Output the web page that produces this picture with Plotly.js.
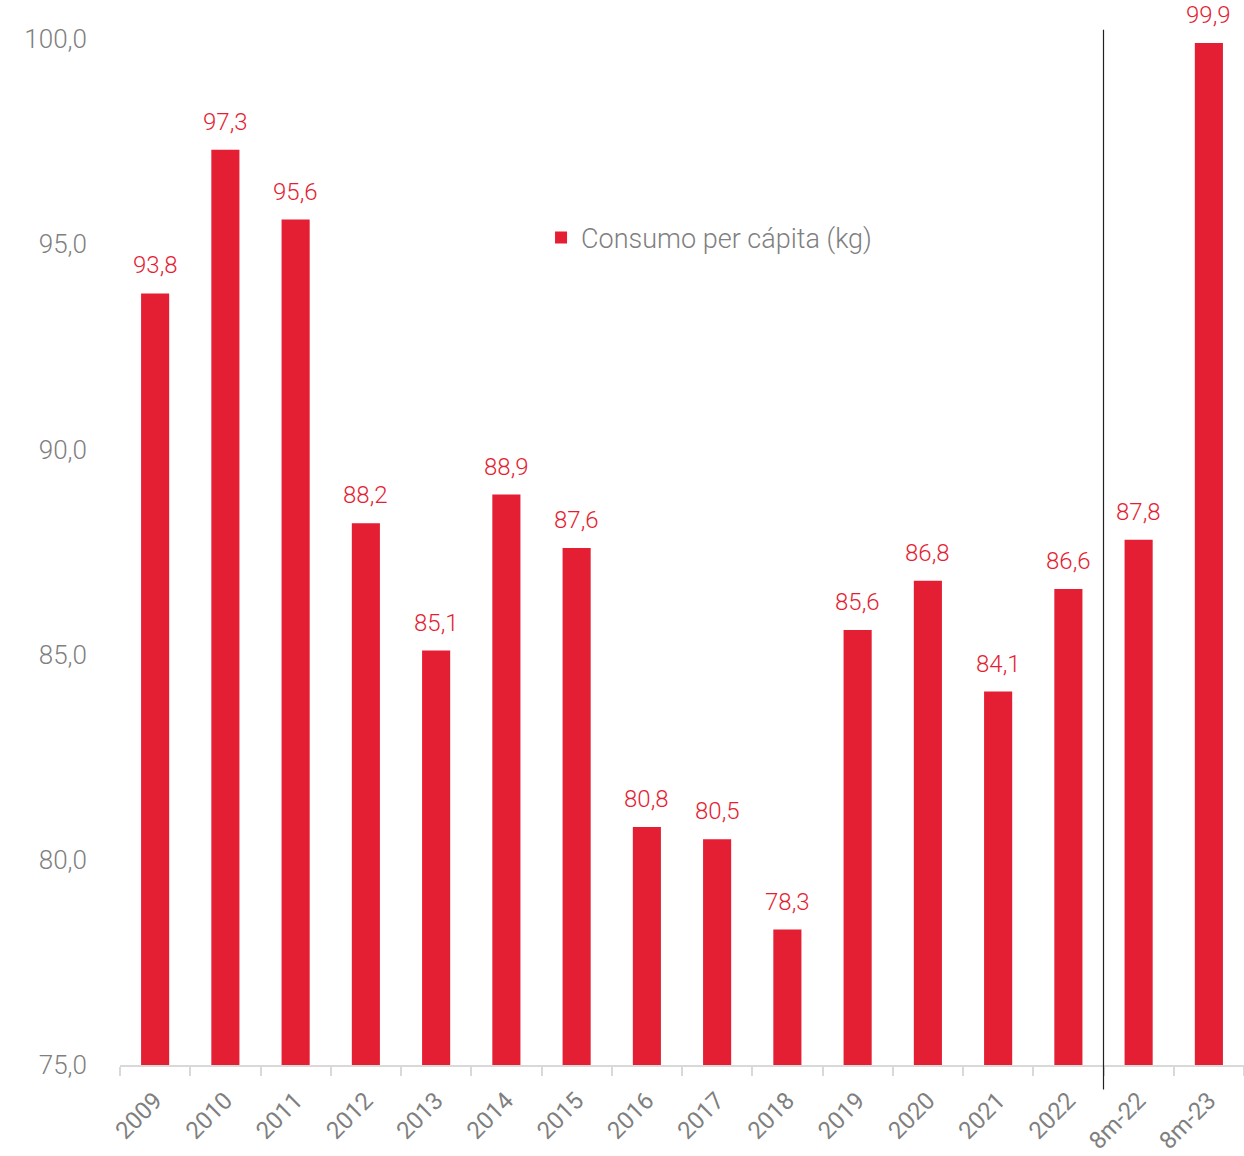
<!DOCTYPE html>
<html>
<head>
<meta charset="utf-8">
<script src="https://cdn.plot.ly/plotly-3.0.1.min.js"></script>
<style>html,body{margin:0;padding:0;background:#fff;}#chart{width:1244px;height:1156px;}</style>
</head>
<body>
<div id="chart"></div>
<script>
const categories = ["2009","2010","2011","2012","2013","2014","2015","2016","2017","2018","2019","2020","2021","2022","8m-22","8m-23"];
const consumo = [93.8, 97.3, 95.6, 88.2, 85.1, 88.9, 87.6, 80.8, 80.5, 78.3, 85.6, 86.8, 84.1, 86.6, 87.8, 99.9];
const seriesName = "Consumo per cápita (kg)";
const yTicks = [75, 80, 85, 90, 95, 100];

const red = "#E41E33";
const gray = "#7f7f7f";
const fontFam = "Roboto, 'Open Sans', sans-serif";

const trace = {
  type: "bar",
  x: categories,
  y: consumo,
  name: seriesName,
  marker: {color: red},
  hoverinfo: "x+y"
};

const fmt = v => v.toFixed(1).replace(".", ",");
const labels = categories.map((c, i) => ({
  x: i, y: consumo[i], xref: "x", yref: "y",
  text: fmt(consumo[i]),
  showarrow: false, yanchor: "middle", yshift: 28,
  font: {family: fontFam, size: 24, color: red, weight: 300}
}));

const layout = {
  width: 1244, height: 1156,
  margin: {l: 120, r: 0, t: 39, b: 91},
  paper_bgcolor: "#fff", plot_bgcolor: "#fff",
  separators: ",.",
  bargap: 0.6,
  font: {family: fontFam, color: gray, weight: 300},
  showlegend: true,
  legend: {
    x: 0.3746, y: 0.806, xanchor: "left", yanchor: "middle",
    font: {family: fontFam, size: 27, color: gray, weight: 300},
    bgcolor: "rgba(0,0,0,0)"
  },
  xaxis: {
    type: "category",
    tickangle: -45,
    tickson: "boundaries",
    ticks: "outside", ticklen: 9, tickcolor: "#d9d9d9", tickwidth: 2,
    showline: true, linecolor: "#d9d9d9", linewidth: 2,
    showgrid: false,
    ticklabelstandoff: 10,
    tickfont: {family: fontFam, size: 24, color: gray, weight: 400},
    range: [-0.5, 15.5]
  },
  yaxis: {
    range: [75, 100],
    tickvals: yTicks,
    tickformat: ".1f",
    showgrid: false, zeroline: false, showline: false,
    ticks: "",
    ticklabelstandoff: 32,
    tickfont: {family: fontFam, size: 26, color: gray, weight: 300}
  },
  annotations: labels,
  shapes: [{
    type: "line", xref: "x", yref: "paper",
    x0: 13.5, x1: 13.5, y0: -0.024, y1: 1.009,
    line: {color: "#222", width: 1.2}
  }]
};

Plotly.newPlot("chart", [trace], layout, {displayModeBar: false, staticPlot: true});
</script>
</body>
</html>
